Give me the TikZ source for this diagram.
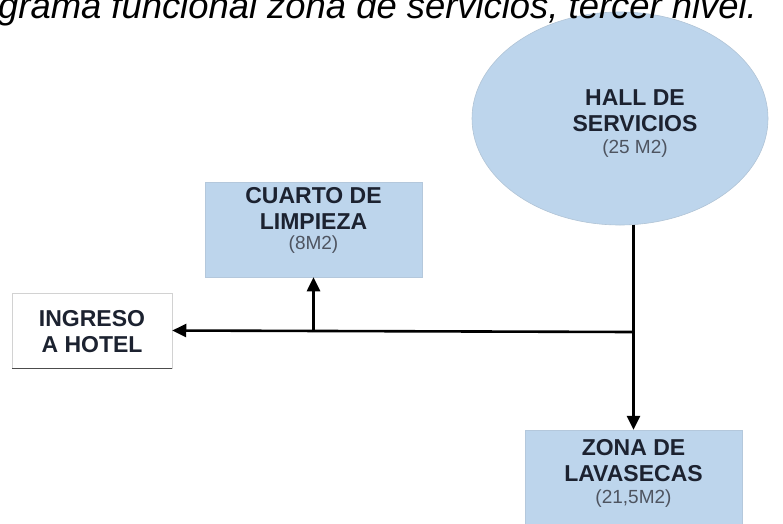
\documentclass[tikz,border=0pt]{standalone}
\usepackage{fontspec}
\setmainfont{Liberation Sans}
\usetikzlibrary{arrows.meta,shapes.geometric}
\definecolor{salablue}{HTML}{BDD5EC}
\definecolor{areagray}{HTML}{4E5460}
\definecolor{rotgray}{HTML}{1C2230}
\newcommand{\areatxt}[1]{{\fontsize{19}{20}\selectfont\mdseries\color{areagray}#1}}
\tikzset{
  rotulo/.style={align=center,inner sep=0pt,font=\fontsize{23}{26}\selectfont\bfseries,text=rotgray},
  ambiente/.style={rotulo,rectangle,fill=salablue,draw=salablue!85!gray,line width=0.5pt,minimum width=217pt,anchor=base},
  flujo/.style={line width=2.6pt,-{Triangle[length=14pt,width=13pt]}}
}
\begin{document}
\begin{tikzpicture}[x=1pt,y=-1pt]
  \useasboundingbox (0,0) rectangle (783,523);
  \clip (0,0) rectangle (783,523);
  % hall
  \node[ellipse,fill=salablue,draw=salablue!80!gray,line width=0.6pt,minimum width=296pt,minimum height=213pt] (hall) at (620,118.5) {};
  \node[rotulo,anchor=base] (hallT) at (635,153.5) {HALL DE\\SERVICIOS\\[-4pt]\areatxt{(25 M2)}};
  \node[anchor=base west,inner sep=0pt,font=\fontsize{36.4}{40}\selectfont\itshape] (titulo) at (-2,18) {grama funcional zona de servicios, tercer nivel.};
  % ambientes
  \node[ambiente,text height=67pt,text depth=28pt] (cuarto) at (313.5,249) {CUARTO DE\\LIMPIEZA\\[-6pt]\areatxt{(8M2)}};
  \node[ambiente,text height=73pt,text depth=57pt] (lav) at (633.5,503) {ZONA DE\\LAVASECAS\\[-4pt]\areatxt{(21,5M2)}};
  \node[rotulo,rectangle,fill=white,draw=gray!35,line width=0.5pt,minimum width=160pt,text height=59pt,text depth=16pt,anchor=base] (ingreso) at (92,352) {INGRESO\\A HOTEL};
  \draw[gray!60!black,line width=1.2pt] (ingreso.south west) -- (ingreso.south east);
  % flujos
  \coordinate (junc) at (633.5,332);
  \draw[flujo] (hall.south -| lav.north) -- (lav.north);
  \draw[flujo] (junc) -- (ingreso.east);
  \draw[flujo] (cuarto.south |- junc) -- (cuarto.south);
\end{tikzpicture}
\end{document}
